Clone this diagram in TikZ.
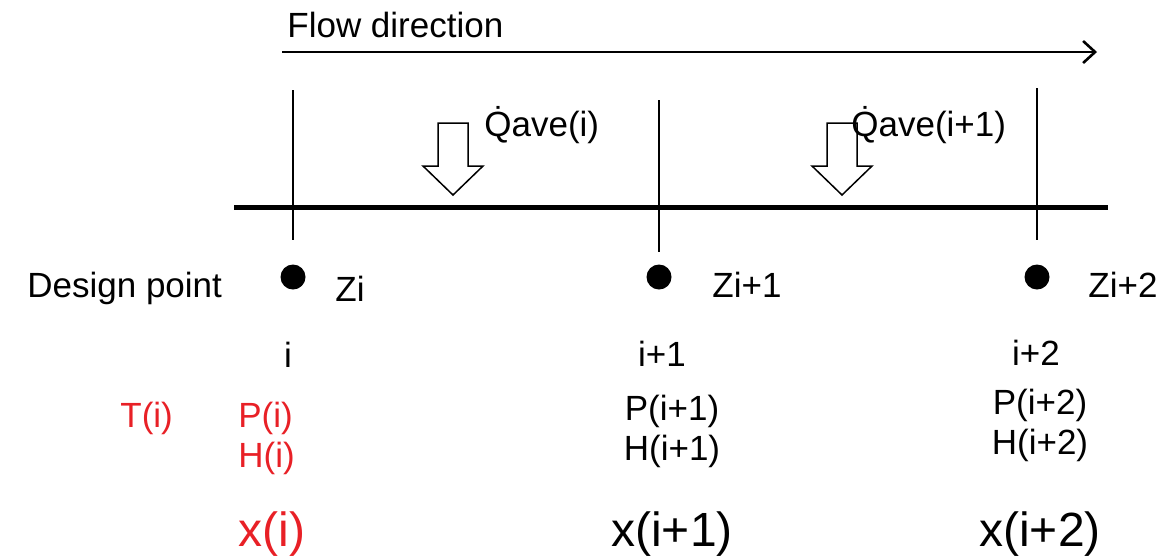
\documentclass[tikz,border=0pt]{standalone}
\usepackage{fontspec}
\setmainfont{Liberation Sans}
\usetikzlibrary{arrows.meta,positioning}

\definecolor{ptred}{RGB}{232,32,38}

\tikzset{
  lbl/.style={inner sep=0pt, font=\fontsize{17.5}{20}\selectfont},
  big/.style={inner sep=0pt, font=\fontsize{24}{28}\selectfont},
  dpt/.style={circle, fill=black, minimum size=12.5pt, inner sep=0pt},
  heat/.style={draw=black, line width=0.75pt, fill=white},
}

\begin{document}
\begin{tikzpicture}[x=0.5pt, y=-0.5pt]
    \useasboundingbox (0,0) rectangle (1176,558);

    % Flow direction
    \node[lbl, anchor=base west] (flow) at (287,37) {Flow direction};
    \coordinate (fs) at (282,52);
    \coordinate (fe) at (1097,52);
    \draw[line width=1pt, -{Straight Barb[length=6pt,width=11pt,line width=1.3pt]}] (fs) -- (fe);

    % Cell boundaries and wall
    \coordinate (t0) at (293,90);   \coordinate (b0) at (293,240);
    \coordinate (t1) at (659,100);  \coordinate (b1) at (659,252);
    \coordinate (t2) at (1037,88);  \coordinate (b2) at (1037,240);
    \draw[line width=0.8pt] (t0) -- (b0) (t1) -- (b1) (t2) -- (b2);
    \coordinate (wl) at (234,207);
    \coordinate (wr) at (1108,207);
    \draw[line width=2.5pt] (wl) -- (wr);

    % Heat input arrows
    \draw[heat, shift={(453,0)}] (-15,123) -- (15,123) -- (15,166) -- (30,166) -- (0,195) -- (-30,166) -- (-15,166) -- cycle;
    \draw[heat, shift={(842,0)}] (-15,123) -- (15,123) -- (15,166) -- (30,166) -- (0,195) -- (-30,166) -- (-15,166) -- cycle;
    \node[lbl, anchor=base west] (q0) at (484,136) {\.{Q}ave(i)};
    \node[lbl, anchor=base west] (q1) at (851,136) {\.{Q}ave(i+1)};

    % Design points
    \node[lbl, anchor=base west] (dp) at (27,297) {Design point};
    \node[dpt] (z0) at (293,277) {};
    \node[dpt] (z1) at (659,277) {};
    \node[dpt] (z2) at (1037,277) {};
    \node[lbl, anchor=base west] (zl0) at (335,301) {Zi};
    \node[lbl, anchor=base west] (zl1) at (712,297) {Zi+1};
    \node[lbl, anchor=base west] (zl2) at (1088,297) {Zi+2};

    % Indices and state variables
    \node[lbl, anchor=base] (n0) at (288,367) {i};
    \node[lbl, anchor=base] (n1) at (662,366) {i+1};
    \node[lbl, anchor=base] (n2) at (1036,365) {i+2};

    \node[lbl, ptred, anchor=base west] (T0) at (120,427) {T(i)};
    \node[lbl, ptred, anchor=base west] (P0) at (238,427) {P(i)};
    \node[lbl, ptred, anchor=base west] (H0) at (238,467) {H(i)};
    \node[lbl, anchor=base] (P1) at (672,420) {P(i+1)};
    \node[lbl, anchor=base] (H1) at (672,460) {H(i+1)};
    \node[lbl, anchor=base] (P2) at (1040,414) {P(i+2)};
    \node[lbl, anchor=base] (H2) at (1040,454) {H(i+2)};

    \node[big, ptred, anchor=base west] (x0) at (238,546) {x(i)};
    \node[big, anchor=base] (x1) at (672,546) {x(i+1)};
    \node[big, anchor=base] (x2) at (1040,546) {x(i+2)};
\end{tikzpicture}
\end{document}
